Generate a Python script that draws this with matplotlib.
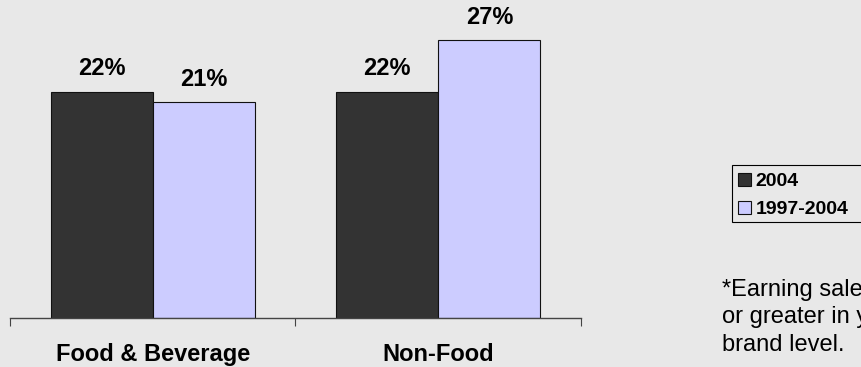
import matplotlib.pyplot as plt
from matplotlib.patches import Rectangle
import numpy as np

# données
categories = ["Food & Beverage", "Non-Food"]
series_names = ["2004", "1997-2004"]
val_2004 = [22, 22]
val_9704 = [21, 27]
colors = ["#333333", "#CCCCFF"]
footnote = ["*Earning sales growth of 10%",
            "or greater in years 1997-2004 at",
            "brand level."]

plt.rcParams['font.family'] = ['Liberation Sans', 'DejaVu Sans']

fig = plt.figure(figsize=(8.62, 3.67), dpi=100)
fig.patch.set_facecolor("#E8E8E8")

W, H = 862, 367
ax = fig.add_axes([10 / W, 49 / H, 571 / W, 318 / H])
ax.set_facecolor("#E8E8E8")

x = np.arange(len(categories))
w = 0.358
b1 = ax.bar(x - w / 2, val_2004, w, color=colors[0], edgecolor="#111111", lw=0.8, label=series_names[0])
b2 = ax.bar(x + w / 2, val_9704, w, color=colors[1], edgecolor="#111111", lw=0.8, label=series_names[1])

for bars, vals in ((b1, val_2004), (b2, val_9704)):
    for r, v in zip(bars, vals):
        ax.annotate(f"{v}%", (r.get_x() + r.get_width() / 2, v), xytext=(0, 8),
                    textcoords="offset points", ha="center", va="bottom",
                    fontsize=17, fontweight="bold")

ax.set_xlim(-0.5, 1.5)
ax.set_ylim(0, 30.9)
for s in ("top", "right", "left"):
    ax.spines[s].set_visible(False)
ax.spines["bottom"].set_color("#444444")
ax.spines["bottom"].set_linewidth(1)
ax.set_yticks([])
ax.set_xticks([-0.5, 0.5, 1.5])
ax.set_xticklabels([])
ax.tick_params(axis="x", which="major", length=6, color="#444444", direction="out")
ax.set_xticks(x, minor=True)
ax.set_xticklabels(categories, minor=True, fontsize=17, fontweight="bold")
ax.tick_params(axis="x", which="minor", length=0, pad=18)

# cadre de la légende (coupé par le bord droit comme sur l'original)
fig.patches.append(Rectangle((732 / W, 1 - 222 / H), 140 / W, 57 / H,
                             transform=fig.transFigure, facecolor="#E8E8E8",
                             edgecolor="#000000", lw=0.8))
leg = fig.legend(handles=[b1, b2], labels=series_names, loc="upper left",
                 bbox_to_anchor=(732 / W, 1 - 167 / H), frameon=False,
                 prop={"size": 14, "weight": "bold"}, handlelength=0.67, handleheight=0.67,
                 handletextpad=0.25, labelspacing=0.55, borderpad=0.3, borderaxespad=0)

for i, line in enumerate(footnote):
    fig.text(722 / W, 1 - (296 + 27.5 * i) / H, line,
             fontsize=17, va="baseline", ha="left")

fig.savefig("out.png", dpi=100, facecolor=fig.get_facecolor())
